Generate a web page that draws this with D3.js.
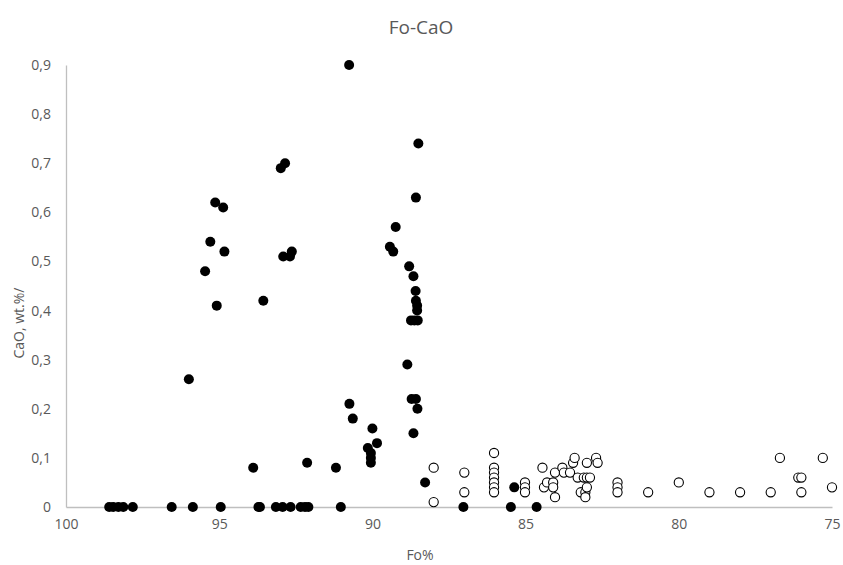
<!DOCTYPE html>
<html>
<head>
<meta charset="utf-8">
<script src="https://cdn.jsdelivr.net/npm/d3@7"></script>
<style>
  body { margin: 0; background: #fff; }
  svg { display: block; }
  text { font-family: "Open Sans", sans-serif; fill: #595959; }
</style>
</head>
<body>
<svg id="chart" width="843" height="565"></svg>
<script>
// filled dots (Fo %, CaO wt.%)
const filledFo = [98.59, 98.46, 98.29, 98.13, 97.82, 96.55, 95.86, 94.95, 93.72, 93.67, 93.15, 92.93, 92.67, 92.34, 92.2, 92.09, 91.03,
  87.03, 85.48, 84.64, 85.37,
  95.99, 95.46, 95.29, 95.13, 94.87, 94.83, 95.08, 93.56, 92.99, 92.85, 92.91, 92.69, 92.63,
  93.89, 92.13, 91.19,
  90.76, 90.75, 90.64, 90.0, 89.85, 90.15, 90.05, 90.05, 90.05,
  89.24, 89.43, 89.32, 88.5, 88.58, 88.8, 88.66, 88.59, 88.58, 88.54, 88.54,
  88.74, 88.63, 88.52, 88.86, 88.72, 88.58, 88.53, 88.66, 88.28];
const filledCaO = [0, 0, 0, 0, 0, 0, 0, 0, 0, 0, 0, 0, 0, 0, 0, 0, 0,
  0, 0, 0, 0.04,
  0.26, 0.48, 0.54, 0.62, 0.61, 0.52, 0.41, 0.42, 0.69, 0.70, 0.51, 0.51, 0.52,
  0.08, 0.09, 0.08,
  0.90, 0.21, 0.18, 0.16, 0.13, 0.12, 0.11, 0.10, 0.09,
  0.57, 0.53, 0.52, 0.74, 0.63, 0.49, 0.47, 0.44, 0.42, 0.41, 0.40,
  0.38, 0.38, 0.38, 0.29, 0.22, 0.22, 0.20, 0.15, 0.05];

// open circles
const openFo = [88.0, 88.0, 87.0, 87.0,
  86.03, 86.03, 86.03, 86.03, 86.03, 86.03, 86.03,
  85.02, 85.02, 85.02,
  84.45, 84.4, 84.3, 84.1, 84.1, 84.04, 84.04, 83.8, 83.75, 83.55, 83.45, 83.4,
  83.3, 83.2, 83.1, 83.05, 83.05, 83.0, 83.0, 83.0, 82.9, 82.7, 82.65,
  82.0, 82.0, 82.0, 81.0, 80.0, 79.0, 78.0, 77.0, 76.7, 76.1, 76.0, 76.0, 75.3, 75.0];
const openCaO = [0.08, 0.01, 0.07, 0.03,
  0.11, 0.08, 0.07, 0.06, 0.05, 0.04, 0.03,
  0.05, 0.04, 0.03,
  0.08, 0.04, 0.05, 0.05, 0.04, 0.07, 0.02, 0.08, 0.07, 0.07, 0.09, 0.10,
  0.06, 0.03, 0.06, 0.03, 0.02, 0.09, 0.06, 0.04, 0.06, 0.10, 0.09,
  0.05, 0.04, 0.03, 0.03, 0.05, 0.03, 0.03, 0.03, 0.10, 0.06, 0.06, 0.03, 0.10, 0.04];

const xTicks = [100, 95, 90, 85, 80, 75];
const yTicks = [0, 0.1, 0.2, 0.3, 0.4, 0.5, 0.6, 0.7, 0.8, 0.9];

const svg = d3.select("#chart");
const x = d3.scaleLinear().domain([100, 75]).range([66, 832]);
const y = d3.scaleLinear().domain([0, 0.9]).range([507, 65]);

function fmt(d) {
  return d === 0 ? "0" : d.toFixed(1).replace(".", ",");
}

// axes
const xAxis = svg.append("g")
  .attr("transform", "translate(0," + y(0) + ")")
  .call(d3.axisBottom(x).tickValues(xTicks).tickSize(0).tickPadding(12).tickFormat(d => d));
const yAxis = svg.append("g")
  .attr("transform", "translate(" + x(100) + ",0)")
  .call(d3.axisLeft(y).tickValues(yTicks).tickSize(0).tickPadding(15).tickFormat(fmt));

[xAxis, yAxis].forEach(function (g) {
  g.select(".domain").attr("stroke", "#bfbfbf").attr("stroke-width", 1.3);
  g.selectAll("text")
    .attr("font-family", "Open Sans, sans-serif")
    .attr("font-size", "14px")
    .attr("fill", "#595959");
});

// points
svg.append("g").selectAll("circle")
  .data(openFo.map((f, i) => [f, openCaO[i]]))
  .enter()
  .append("circle")
  .attr("cx", d => x(d[0]))
  .attr("cy", d => y(d[1]))
  .attr("r", 4.6)
  .attr("fill", "#fff")
  .attr("stroke", "#000")
  .attr("stroke-width", 1.1);

svg.append("g").selectAll("circle")
  .data(filledFo.map((f, i) => [f, filledCaO[i]]))
  .enter()
  .append("circle")
  .attr("cx", d => x(d[0]))
  .attr("cy", d => y(d[1]))
  .attr("r", 5)
  .attr("fill", "#000");

// titles
svg.append("text")
  .attr("x", 421).attr("y", 34)
  .attr("text-anchor", "middle")
  .attr("font-size", "19px")
  .text("Fo-CaO");

svg.append("text")
  .attr("x", 420).attr("y", 560)
  .attr("text-anchor", "middle")
  .attr("font-size", "14px")
  .text("Fo%");

svg.append("text")
  .attr("transform", "translate(24,323) rotate(-90)")
  .attr("text-anchor", "middle")
  .attr("font-size", "14px")
  .text("CaO, wt.%/");
</script>
</body>
</html>
